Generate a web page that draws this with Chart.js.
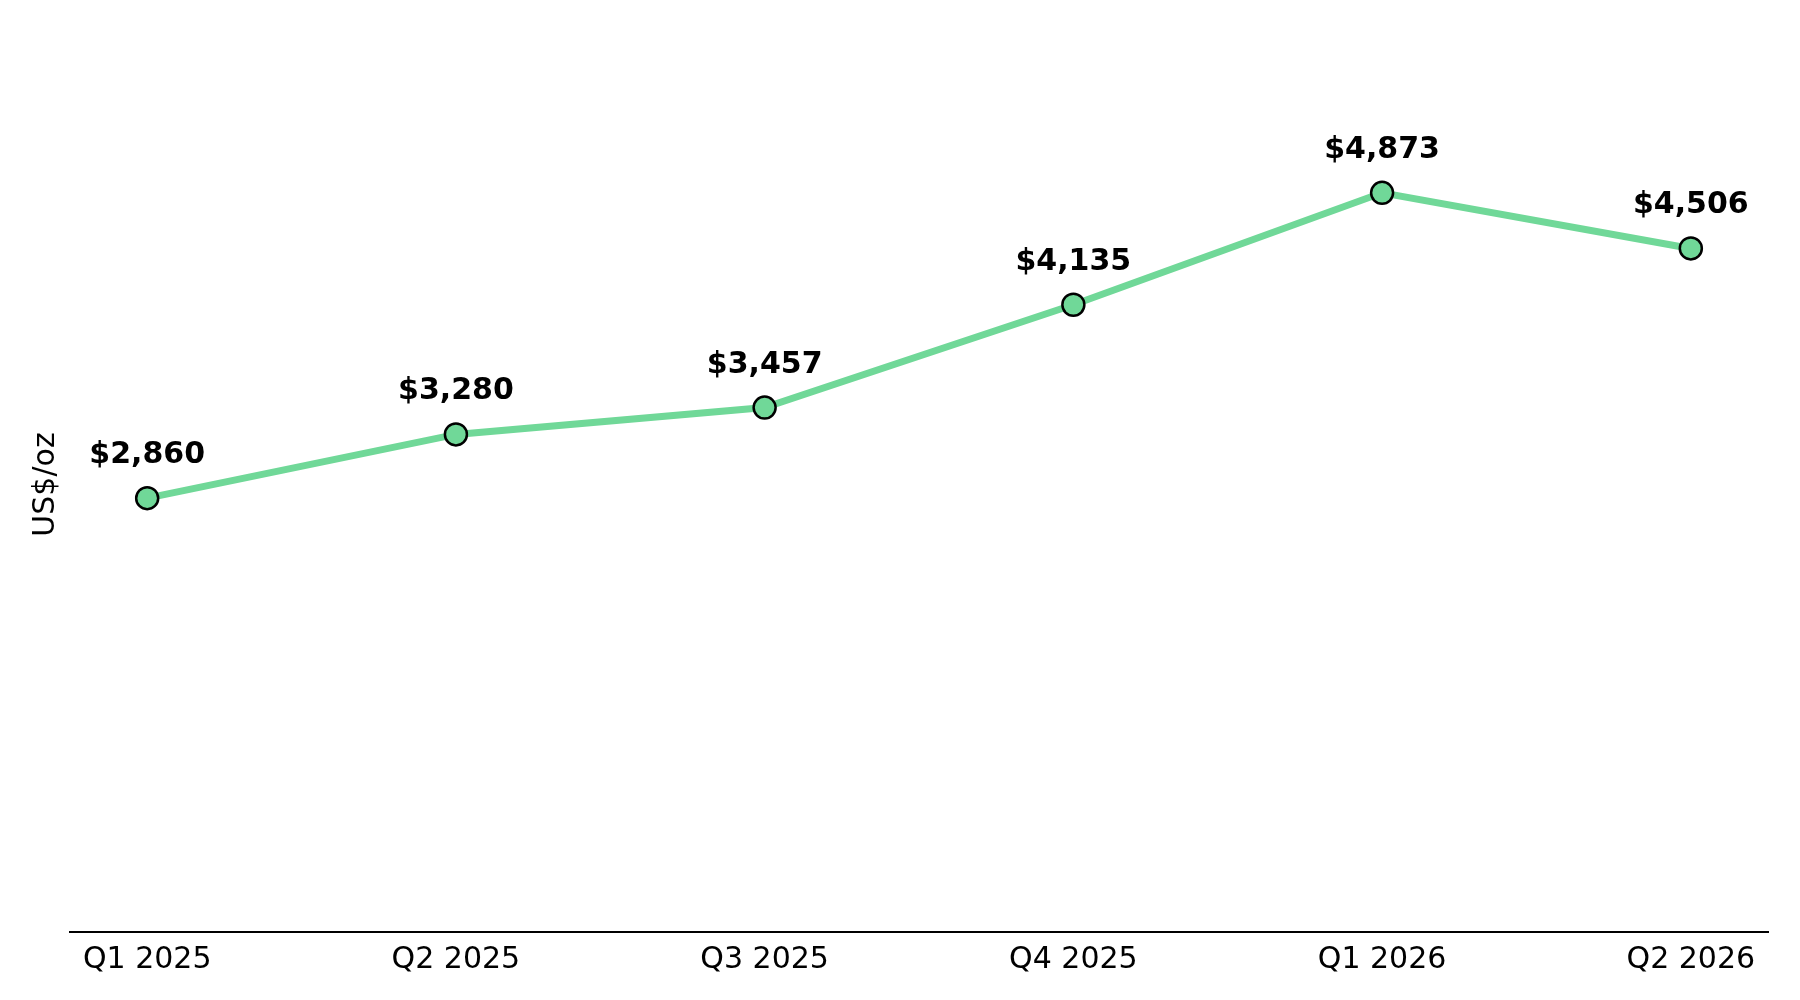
<!DOCTYPE html>
<html>
<head>
<meta charset="utf-8">
<script src="https://cdn.jsdelivr.net/npm/chart.js@4/dist/chart.umd.min.js"></script>
<style>
  html, body { margin: 0; padding: 0; background: #fff; }
  #wrap { width: 1800px; height: 1000px; }
</style>
</head>
<body>
<div id="wrap"><canvas id="chart" width="1800" height="1000"></canvas></div>
<script>
const quarters = ['Q1 2025', 'Q2 2025', 'Q3 2025', 'Q4 2025', 'Q1 2026', 'Q2 2026'];
const prices = [2860, 3280, 3457, 4135, 4873, 4506];
const yTitle = 'US$/oz';

const green = '#70d898';
const font = 'DejaVu Sans';

// labels above each point, placed from the dataset's own element positions
const pointLabels = {
  id: 'pointLabels',
  afterDatasetsDraw(chart) {
    const { ctx } = chart;
    const meta = chart.getDatasetMeta(0);
    ctx.save();
    ctx.font = `bold 30px "${font}"`;
    ctx.fillStyle = '#000';
    ctx.textAlign = 'center';
    ctx.textBaseline = 'alphabetic';
    meta.data.forEach((pt, i) => {
      ctx.fillText('$' + prices[i].toLocaleString('en-US'), pt.x, pt.y - 35);
    });
    ctx.restore();
  }
};

new Chart(document.getElementById('chart'), {
  type: 'line',
  data: {
    datasets: [
      {
        data: prices.map((v, i) => ({ x: i, y: v })),
        borderColor: green,
        borderWidth: 7,
        backgroundColor: green,
        pointBackgroundColor: green,
        pointBorderColor: '#000',
        pointBorderWidth: 2.5,
        pointRadius: 11,
        tension: 0
      }
    ]
  },
  options: {
    responsive: false,
    devicePixelRatio: 1,
    animation: false,
    layout: { padding: { top: 37, right: 32, bottom: 0, left: 0 } },
    plugins: {
      legend: { display: false },
      tooltip: { enabled: false }
    },
    scales: {
      x: {
        type: 'linear',
        min: -0.25,
        max: quarters.length - 0.75,
        afterBuildTicks: scale => {
          scale.ticks = quarters.map((q, i) => ({ value: i }));
        },
        afterFit: scale => { scale.height = 68; },
        grid: { display: false, drawTicks: false },
        border: { display: true, color: '#000', width: 2 },
        ticks: {
          padding: 10,
          color: '#000',
          font: { family: font, size: 30 },
          maxRotation: 0,
          autoSkip: false,
          callback: v => quarters[v]
        }
      },
      y: {
        min: 0,
        max: 5900,
        afterFit: scale => { scale.width = 70; },
        grid: { display: false, drawTicks: false },
        border: { display: false },
        ticks: { display: false },
        title: {
          display: true,
          text: yTitle,
          color: '#000',
          font: { family: font, size: 30 },
          padding: { top: 28, bottom: 0 }
        }
      }
    }
  },
  plugins: [pointLabels]
});
</script>
</body>
</html>
